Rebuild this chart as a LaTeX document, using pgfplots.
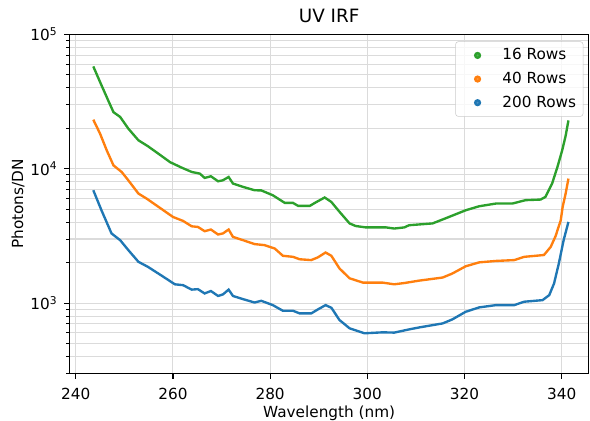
\documentclass[border=0pt]{standalone}
\usepackage{fontspec}
\setmainfont{DejaVu Sans}
\usepackage{pgfplots}
\pgfplotsset{compat=1.18}
\definecolor{cA}{HTML}{2CA02C}
\definecolor{cB}{HTML}{FF7F0E}
\definecolor{cC}{HTML}{1F77B4}
\begin{document}
\fontsize{11}{13}\selectfont
\begin{tikzpicture}
\begin{axis}[
  at={(0,0)}, anchor=south west,
  scale only axis, width=374pt, height=244pt,
  xmin=238.7, xmax=345.6,
  ymode=log, ymin=300, ymax=100000,
  xtick={240,260,280,300,320,340},
  ytick={1000,10000,100000},
  yticklabels={10\textsuperscript{3},10\textsuperscript{4},10\textsuperscript{5}},
  minor ytick={300,400,500,600,700,800,900,2000,3000,4000,5000,6000,7000,8000,9000,20000,30000,40000,50000,60000,70000,80000,90000},
  grid=both,
  major grid style={draw=black!14, line width=0.75pt},
  minor grid style={draw=black!14, line width=0.75pt},
  tick align=outside,
  major tick length=3.8pt, minor tick length=2.2pt,
  every tick/.style={black, line width=0.85pt},
  minor tick style={black, line width=0.65pt},
  axis line style={line width=0.85pt},
  xtick pos=bottom, ytick pos=left,
  /pgf/number format/assume math mode=true,
  /pgf/number format/1000 sep={},
  tick label style={font=\fontsize{11}{13}\selectfont},
  xticklabel style={yshift=-3.3pt},
  yticklabel style={xshift=-1pt},
  xlabel={Wavelength (nm)},
  ylabel={Photons/DN},
  xlabel style={at={(axis description cs:0.5,-0.118)}, anchor=center, font=\fontsize{11}{13}\selectfont},
  ylabel style={at={(axis description cs:-0.099,0.5)}, anchor=center, font=\fontsize{11}{13}\selectfont},
  title={UV IRF},
  title style={at={(axis description cs:0.5,1.030)}, anchor=center, font=\fontsize{13.2}{15}\selectfont},
  legend style={at={(1,1)}, anchor=north east, xshift=-4pt, yshift=-5pt,
    draw=black!20, fill=white, fill opacity=0.8, text opacity=1,
    rounded corners=2pt, font=\fontsize{11}{13}\selectfont,
    inner xsep=3pt, inner ysep=3pt, row sep=3.2pt},
  legend cell align=left,
  legend image code/.code={\path (0pt,-2pt) (27pt,2pt); \fill (12pt,0pt) circle (1.7pt);},
  every axis plot/.append style={line width=1.7pt},
]
\addplot[color=cA] coordinates {
(243.61,57800) (245.09,43500) (246.67,32300) (247.76,26400) (249.14,24300)
(250.82,19900) (252.89,16300) (254.87,14700) (256.94,13000) (259.41,11200)
(261.78,10200) (263.86,9470) (265.54,9200) (266.52,8550) (267.81,8790)
(269.29,8070) (270.28,8210) (271.46,8690) (272.35,7760) (274.43,7330)
(276.8,6920) (278.18,6900) (280.55,6350) (283.02,5570) (284.7,5570)
(285.78,5290) (288.15,5290) (289.54,5660) (291.22,6110) (292.6,5660)
(294.28,4780) (296.35,3920) (297.6,3750) (299.71,3660) (303.86,3660)
(305.54,3590) (307.6,3660) (308.6,3800) (313.44,3920) (316.9,4390)
(320.25,4910) (323.02,5260) (326.48,5510) (329.83,5510) (332.6,5840)
(335.66,5900) (336.65,6170) (338.03,7760) (339.12,10300) (340.1,13700)
(340.8,17500) (341.39,22900)
};
\addlegendentry{16 Rows}
\addplot[color=cB] coordinates {
(243.61,23200) (244.99,18300) (246.38,13700) (247.76,10600) (249.44,9470)
(250.82,8200) (252.89,6540) (254.57,6000) (258.03,4910) (260.0,4380)
(262.08,4090) (263.86,3730) (265.14,3690) (266.52,3430) (267.81,3530)
(269.29,3240) (270.28,3300) (271.46,3530) (272.35,3110) (274.43,2940)
(276.8,2750) (278.87,2700) (280.94,2550) (282.62,2250) (284.7,2210)
(286.08,2120) (288.45,2090) (289.83,2190) (291.41,2380) (292.6,2250)
(294.28,1810) (296.35,1530) (299.12,1420) (303.17,1420) (305.54,1380)
(307.6,1410) (310.67,1470) (315.51,1550) (317.49,1660) (320.25,1880)
(323.02,2010) (326.48,2060) (330.23,2090) (332.3,2210) (336.35,2280)
(337.74,2620) (338.74,3150) (339.81,4140) (340.2,5200) (340.8,6500)
(341.39,8450)
};
\addlegendentry{40 Rows}
\addplot[color=cC] coordinates {
(243.61,6920) (245.29,4910) (247.36,3300) (249.14,2940) (250.82,2480)
(252.89,2030) (254.87,1860) (258.03,1570) (260.4,1380) (262.08,1360)
(263.86,1260) (265.14,1270) (266.52,1180) (267.81,1230) (269.29,1130)
(270.28,1160) (271.46,1260) (272.35,1130) (274.43,1070) (276.8,1010)
(278.18,1040) (280.55,966) (282.62,877) (284.7,877) (286.08,838)
(288.45,838) (289.83,897) (291.41,966) (292.6,923) (294.28,748)
(296.35,649) (299.41,596) (303.17,606) (305.54,603) (308.6,637)
(310.67,659) (315.51,706) (317.49,756) (320.25,862) (323.02,929)
(326.48,966) (330.23,966) (332.3,1024) (336.06,1052) (337.44,1146)
(338.43,1400) (339.41,1970) (340.4,2940) (341.39,4020)
};
\addlegendentry{200 Rows}
\end{axis}
\pgfresetboundingbox
\path[use as bounding box] (-50pt,-34.1pt) rectangle (374.8pt,268.8pt);
\end{tikzpicture}
\end{document}
